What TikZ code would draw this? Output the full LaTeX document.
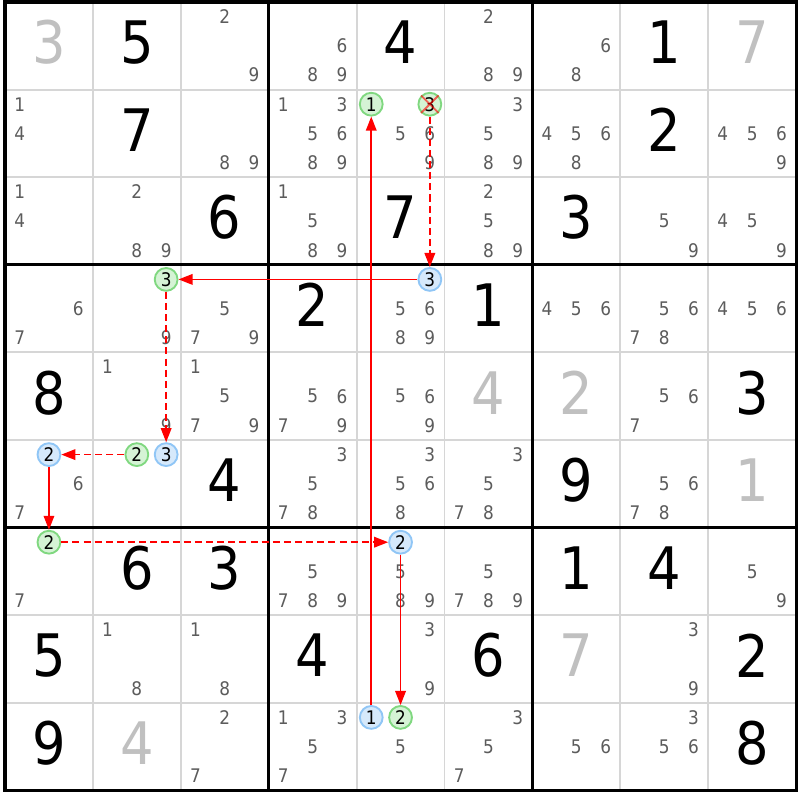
\documentclass[tikz,border=0pt]{standalone}
\usepackage{fontspec}
\setmainfont{DejaVu Sans Condensed}
\usetikzlibrary{arrows.meta}
\definecolor{candgray}{HTML}{5C5C5C}
\definecolor{solvedgray}{HTML}{C0C0C0}
\definecolor{thingrid}{HTML}{D6D6D6}
\definecolor{onfill}{HTML}{D5F3D5}
\definecolor{onring}{HTML}{80D880}
\definecolor{offfill}{HTML}{D6E9FB}
\definecolor{offring}{HTML}{90C6F6}
\definecolor{linkred}{HTML}{FF0000}
\def\ox{5}
\def\oy{2}
\def\cw{87.9}
\def\ch{87.6}

\begin{document}
\begin{tikzpicture}[
	x=0.03cm,y=-0.03cm,
	given/.style={font=\fontsize{50}{50}\selectfont,inner sep=0,yshift=3pt},
	solved/.style={given,text=solvedgray},
	cand/.style={font=\fontsize{16}{16}\selectfont,text=candgray,inner sep=0},
	on/.style={circle,draw=onring,fill=onfill,line width=1.6pt,minimum size=19.5pt,inner sep=0,font=\fontsize{16}{16}\selectfont},
	off/.style={on,draw=offring,fill=offfill},
	strong/.style={draw=linkred,line width=1.4pt,-{Triangle[length=12pt,width=9pt,fill=linkred]}},
	weak/.style={strong,dash pattern=on 6pt off 3.5pt}]
\useasboundingbox[fill=white] (0,0) rectangle (800,800);
\foreach \i in {1,2,4,5,7,8} {
	\draw[thingrid,line width=1.7pt] ({\ox+\i*\cw},\oy) -- ({\ox+\i*\cw},{\oy+9*\ch});
	\draw[thingrid,line width=1.7pt] (\ox,{\oy+\i*\ch}) -- ({\ox+9*\cw},{\oy+\i*\ch});
}
\foreach \i in {0,3,6,9} {
	\draw[line width=2.6pt,line cap=rect] ({\ox+\i*\cw},\oy) -- ({\ox+\i*\cw},{\oy+9*\ch});
	\draw[line width=2.6pt,line cap=rect] (\ox,{\oy+\i*\ch}) -- ({\ox+9*\cw},{\oy+\i*\ch});
}
\foreach \r/\c/\v/\kind in {1/2/5/given, 1/5/4/given, 1/8/1/given, 2/2/7/given, 2/8/2/given,
	3/3/6/given, 3/5/7/given, 3/7/3/given, 4/4/2/given, 4/6/1/given, 5/1/8/given, 5/9/3/given,
	6/3/4/given, 6/7/9/given, 7/2/6/given, 7/3/3/given, 7/7/1/given, 7/8/4/given,
	8/1/5/given, 8/4/4/given, 8/6/6/given, 8/9/2/given, 9/1/9/given, 9/9/8/given,
	1/1/3/solved, 1/9/7/solved, 5/6/4/solved, 5/7/2/solved, 6/9/1/solved, 8/7/7/solved, 9/2/4/solved}
	\node[\kind] (v\r\c) at ({\ox+(\c-0.5)*\cw},{\oy+(\r-0.5)*\ch}) {\v};
\foreach \r/\c/\ds in {1/3/{2,9}, 1/4/{6,8,9}, 1/6/{2,8,9}, 1/7/{6,8},
	2/1/{1,4}, 2/3/{8,9}, 2/4/{1,3,5,6,8,9}, 2/5/{5,6,9}, 2/6/{3,5,8,9}, 2/7/{4,5,6,8}, 2/9/{4,5,6,9},
	3/1/{1,4}, 3/2/{2,8,9}, 3/4/{1,5,8,9}, 3/6/{2,5,8,9}, 3/8/{5,9}, 3/9/{4,5,9},
	4/1/{6,7}, 4/2/{9}, 4/3/{5,7,9}, 4/5/{5,6,8,9}, 4/7/{4,5,6}, 4/8/{5,6,7,8}, 4/9/{4,5,6},
	5/2/{1,9}, 5/3/{1,5,7,9}, 5/4/{5,6,7,9}, 5/5/{5,6,9}, 5/8/{5,6,7},
	6/1/{6,7}, 6/4/{3,5,7,8}, 6/5/{3,5,6,8}, 6/6/{3,5,7,8}, 6/8/{5,6,7,8},
	7/1/{7}, 7/4/{5,7,8,9}, 7/5/{5,8,9}, 7/6/{5,7,8,9}, 7/9/{5,9},
	8/2/{1,8}, 8/3/{1,8}, 8/5/{3,9}, 8/8/{3,9},
	9/3/{2,7}, 9/4/{1,3,5,7}, 9/5/{5}, 9/6/{3,5,7}, 9/7/{5,6}, 9/8/{3,5,6}} {
	\foreach \d in \ds {
		\pgfmathsetmacro\px{\ox+(\c-1)*\cw+(2*mod(\d-1,3)+1)*\cw/6}
		\pgfmathsetmacro\py{\oy+(\r-1)*\ch+(2*int((\d-1)/3)+1)*\ch/6}
		\node[cand] (c\r\c\d) at (\px,\py) {\d};
	}
}
\foreach \r/\c/\d/\kind in {2/5/1/on, 2/5/3/on, 4/2/3/on, 6/2/2/on, 7/1/2/on, 9/5/2/on,
	9/5/1/off, 4/5/3/off, 6/2/3/off, 6/1/2/off, 7/5/2/off} {
	\pgfmathsetmacro\px{\ox+(\c-1)*\cw+(2*mod(\d-1,3)+1)*\cw/6}
	\pgfmathsetmacro\py{\oy+(\r-1)*\ch+(2*int((\d-1)/3)+1)*\ch/6}
	\node[\kind] (n\r\c\d) at (\px,\py) {\d};
}
\draw[red,opacity=0.6,line width=1.6pt] (n253.north west) -- (n253.south east)
	(n253.north east) -- (n253.south west);
\draw[strong] (n951) -- (n251);
\draw[weak] (n253) -- (n453);
\draw[strong] (n453) -- (n423);
\draw[weak] (n423) -- (n623);
\draw[weak] (n622) -- (n612);
\draw[strong] (n612) -- (n712);
\draw[weak] (n712) -- (n752);
\draw[strong] (n752) -- (n952);
\end{tikzpicture}
\end{document}
